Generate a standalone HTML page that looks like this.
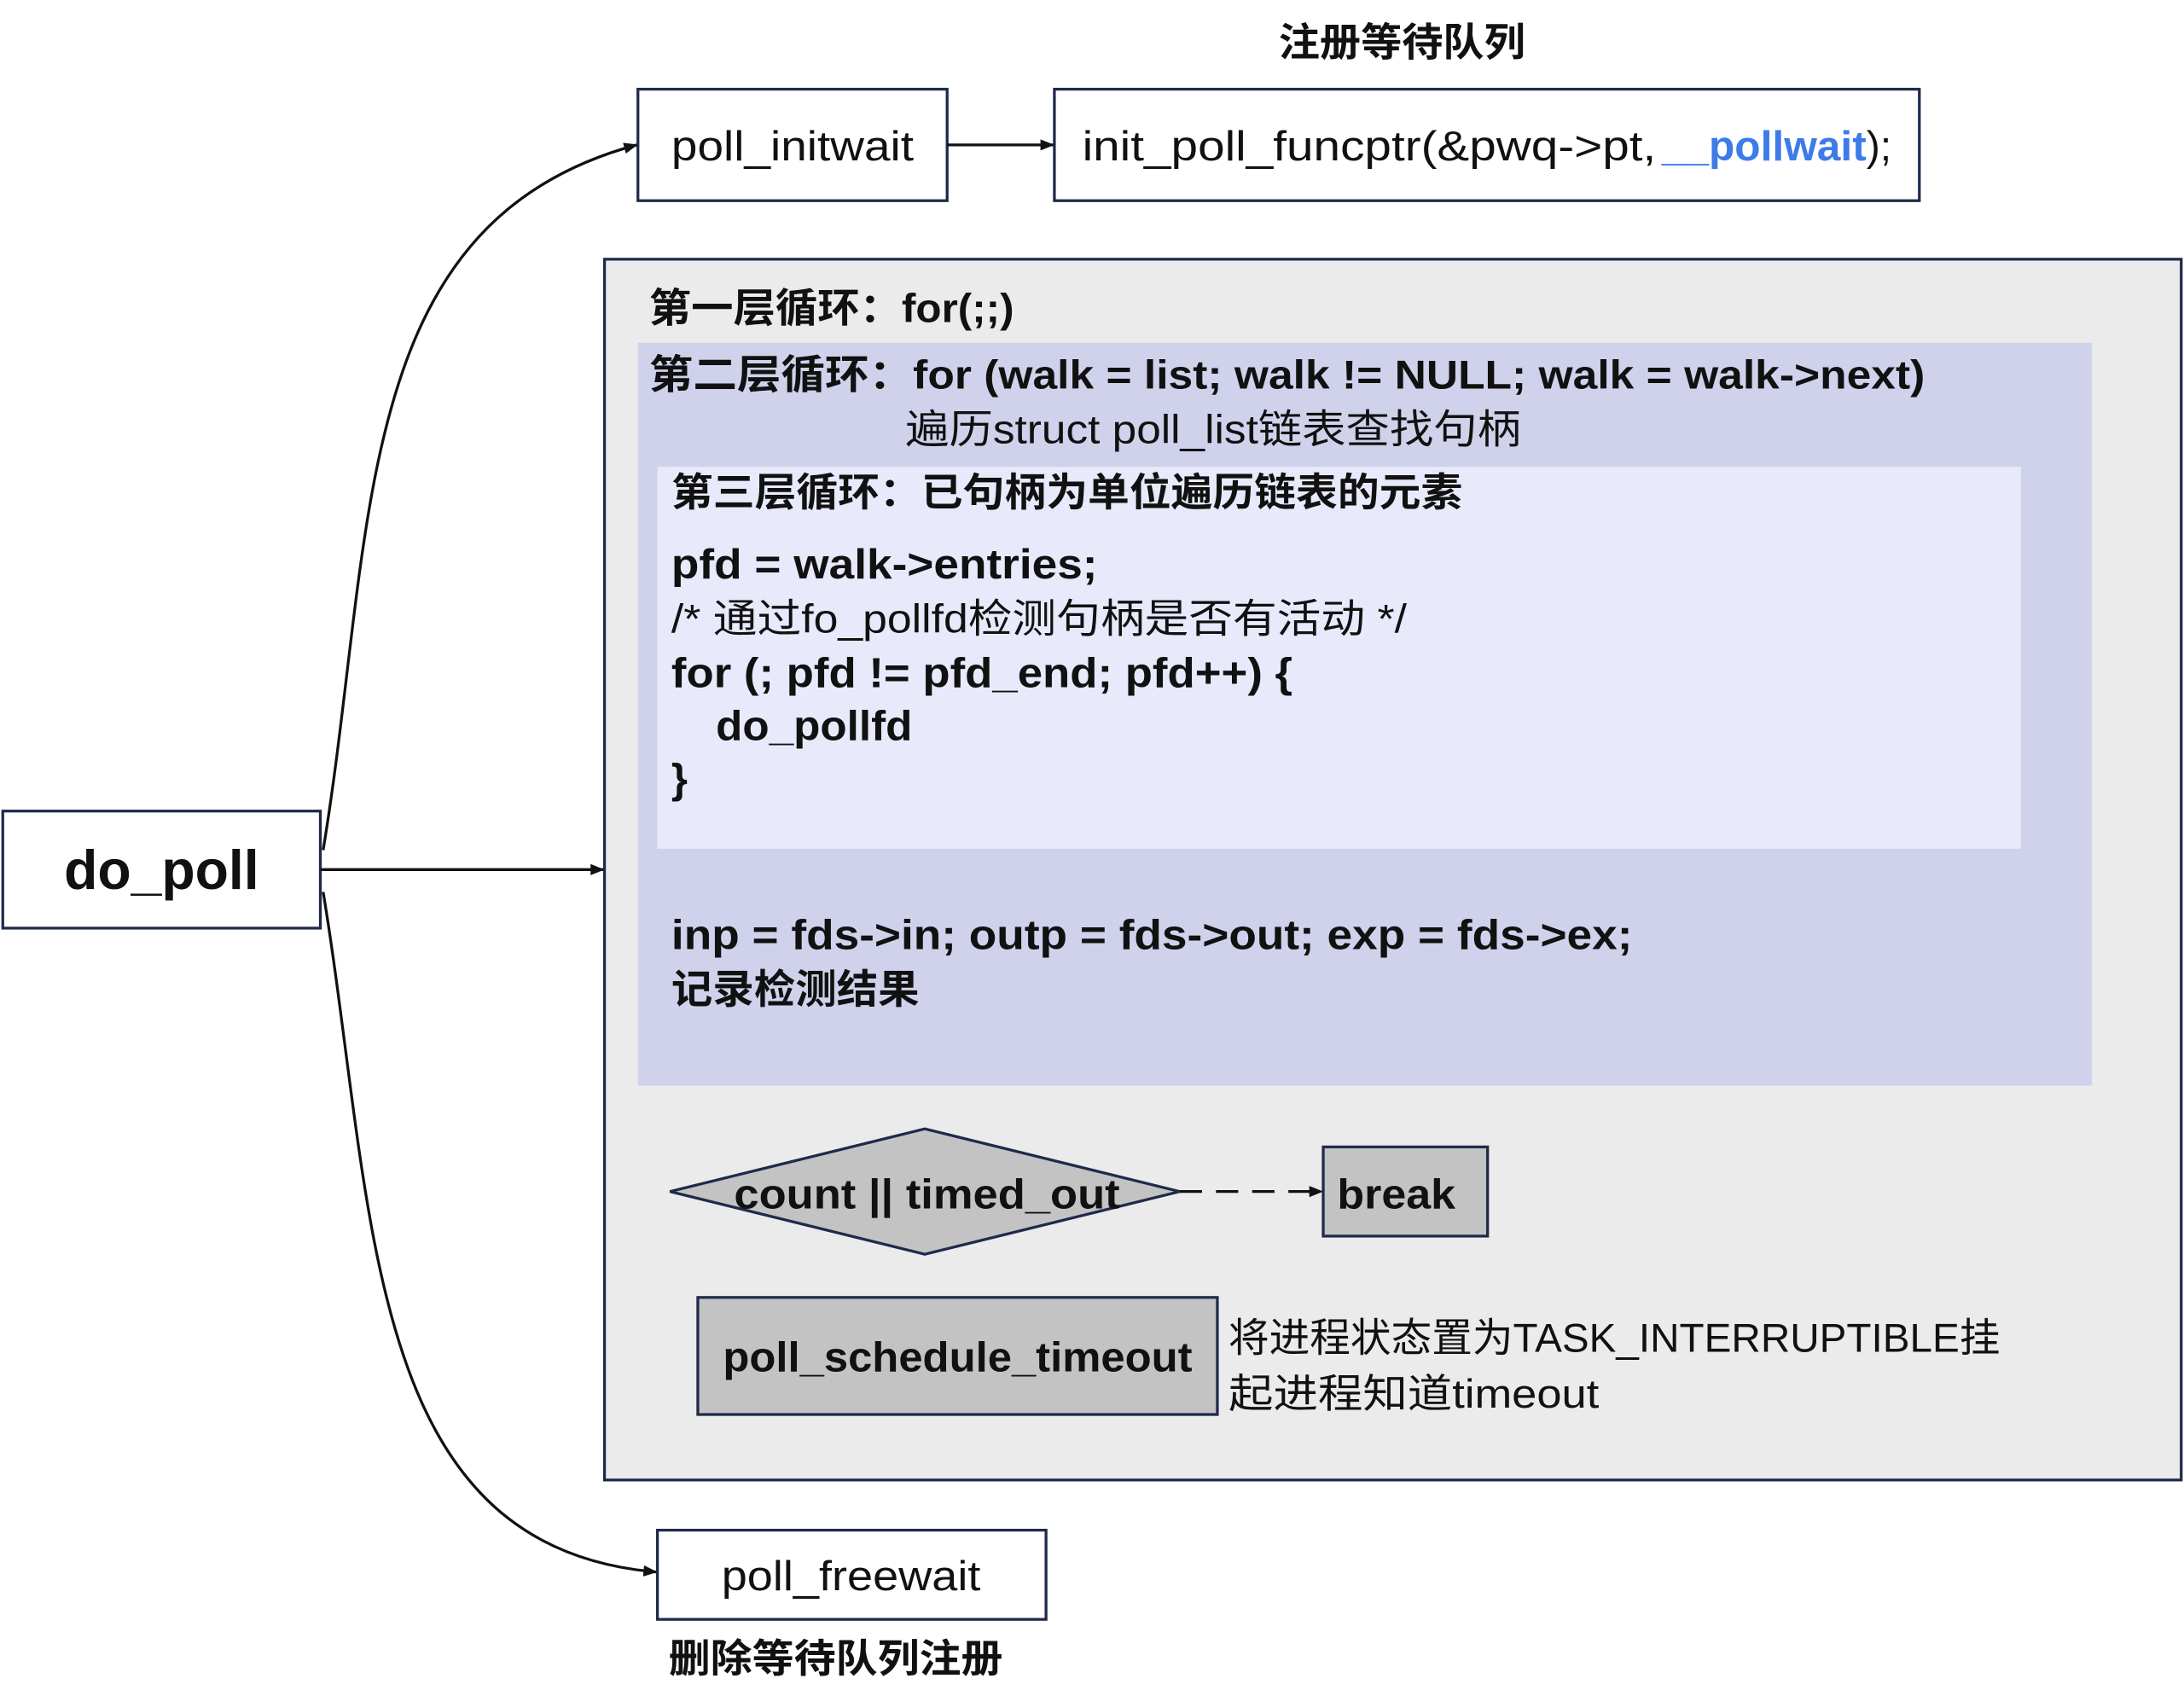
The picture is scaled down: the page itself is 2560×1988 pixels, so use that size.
<!DOCTYPE html>
<html><head><meta charset="utf-8"><style>
html,body{margin:0;padding:0;background:#fff;}
svg{display:block;}
text{font-family:"Liberation Sans","Noto Sans CJK SC",sans-serif;fill:#111;}
.b{font-weight:bold;}
</style></head><body>
<svg width="2560" height="1988" viewBox="0 0 1568 1217" preserveAspectRatio="none" xmlns="http://www.w3.org/2000/svg">
<defs>
<marker id="ar" markerWidth="10" markerHeight="10" refX="9" refY="5" orient="auto" markerUnits="userSpaceOnUse">
<path d="M0,1 L10,5 L0,9 Z" fill="#111"/></marker>
</defs>
<rect x="0" y="0" width="1568" height="1217" fill="#fff"/>
<!-- big gray -->
<rect x="434" y="186" width="1132" height="876" fill="#ebebeb" stroke="#1f2a4a" stroke-width="2"/>
<rect x="458" y="246" width="1044" height="533" fill="#d0d2ec"/>
<rect x="472" y="335" width="979" height="274" fill="#e8eafc"/>
<!-- top boxes -->
<text x="918" y="40" font-size="28" class="b" textLength="177" lengthAdjust="spacingAndGlyphs">注册等待队列</text>
<rect x="458" y="64" width="222" height="80" fill="#fff" stroke="#1f2a4a" stroke-width="2"/>
<text x="482" y="115" font-size="30" textLength="174" lengthAdjust="spacingAndGlyphs">poll_initwait</text>
<rect x="757" y="64" width="621" height="80" fill="#fff" stroke="#1f2a4a" stroke-width="2"/>
<text x="777" y="115" font-size="30" textLength="412" lengthAdjust="spacingAndGlyphs">init_poll_funcptr(&amp;pwq-&gt;pt,</text>
<text x="1193" y="115" font-size="30" class="b" style="fill:#3d7be8" textLength="147" lengthAdjust="spacingAndGlyphs">__pollwait</text>
<text x="1340" y="115" font-size="30" textLength="18" lengthAdjust="spacingAndGlyphs">);</text>
<line x1="680" y1="104" x2="756" y2="104" stroke="#111" stroke-width="2" marker-end="url(#ar)"/>
<!-- do_poll -->
<rect x="2" y="582" width="228" height="84" fill="#fff" stroke="#1f2a4a" stroke-width="2"/>
<text x="46" y="638" font-size="40" class="b" textLength="140" lengthAdjust="spacingAndGlyphs">do_poll</text>
<line x1="230" y1="624" x2="433" y2="624" stroke="#111" stroke-width="2" marker-end="url(#ar)"/>
<path d="M232,610 C270,380 250,160 457,104" fill="none" stroke="#111" stroke-width="2" marker-end="url(#ar)"/>
<path d="M232,640 C270,870 260,1110 471,1128" fill="none" stroke="#111" stroke-width="2" marker-end="url(#ar)"/>
<!-- loop texts -->
<text x="466" y="231" font-size="29" class="b" textLength="262" lengthAdjust="spacingAndGlyphs">第一层循环：for(;;)</text>
<text x="466" y="279" font-size="29" class="b" textLength="916" lengthAdjust="spacingAndGlyphs">第二层循环：for (walk = list; walk != NULL; walk = walk-&gt;next)</text>
<text x="650" y="318" font-size="29" textLength="442" lengthAdjust="spacingAndGlyphs">遍历struct poll_list链表查找句柄</text>
<text x="482" y="363" font-size="28" class="b" textLength="568" lengthAdjust="spacingAndGlyphs">第三层循环：已句柄为单位遍历链表的元素</text>
<text x="482" y="415" font-size="30" class="b" textLength="306" lengthAdjust="spacingAndGlyphs">pfd = walk-&gt;entries;</text>
<text x="482" y="454" font-size="29" textLength="528" lengthAdjust="spacingAndGlyphs">/* 通过fo_pollfd检测句柄是否有活动 */</text>
<text x="482" y="493" font-size="30" class="b" textLength="446" lengthAdjust="spacingAndGlyphs">for (; pfd != pfd_end; pfd++) {</text>
<text x="514" y="531" font-size="30" class="b" textLength="141" lengthAdjust="spacingAndGlyphs">do_pollfd</text>
<text x="482" y="569" font-size="30" class="b">}</text>
<text x="482" y="681" font-size="30" class="b" textLength="690" lengthAdjust="spacingAndGlyphs">inp = fds-&gt;in; outp = fds-&gt;out; exp = fds-&gt;ex;</text>
<text x="482" y="720" font-size="29" class="b" textLength="178" lengthAdjust="spacingAndGlyphs">记录检测结果</text>
<!-- diamond & break -->
<polygon points="481,855 664,810 847,855 664,900" fill="#c3c3c3" stroke="#1f2a4a" stroke-width="2"/>
<text x="527" y="867" font-size="30" class="b" textLength="277" lengthAdjust="spacingAndGlyphs">count || timed_out</text>
<line x1="847" y1="855" x2="949" y2="855" stroke="#111" stroke-width="2" stroke-dasharray="16,10" marker-end="url(#ar)"/>
<rect x="950" y="823" width="118" height="64" fill="#c3c3c3" stroke="#1f2a4a" stroke-width="2"/>
<text x="960" y="867" font-size="30" class="b" textLength="85" lengthAdjust="spacingAndGlyphs">break</text>
<rect x="501" y="931" width="373" height="84" fill="#c3c3c3" stroke="#1f2a4a" stroke-width="2"/>
<text x="519" y="984" font-size="30" class="b" textLength="337" lengthAdjust="spacingAndGlyphs">poll_schedule_timeout</text>
<text x="882" y="970" font-size="29" textLength="554" lengthAdjust="spacingAndGlyphs">将进程状态置为TASK_INTERRUPTIBLE挂</text>
<text x="882" y="1010" font-size="29" textLength="266" lengthAdjust="spacingAndGlyphs">起进程知道timeout</text>
<!-- freewait -->
<rect x="472" y="1098" width="279" height="64" fill="#fff" stroke="#1f2a4a" stroke-width="2"/>
<text x="518" y="1141" font-size="30" textLength="186" lengthAdjust="spacingAndGlyphs">poll_freewait</text>
<text x="480" y="1200" font-size="28" class="b" textLength="240" lengthAdjust="spacingAndGlyphs">删除等待队列注册</text>
</svg>
</body></html>
